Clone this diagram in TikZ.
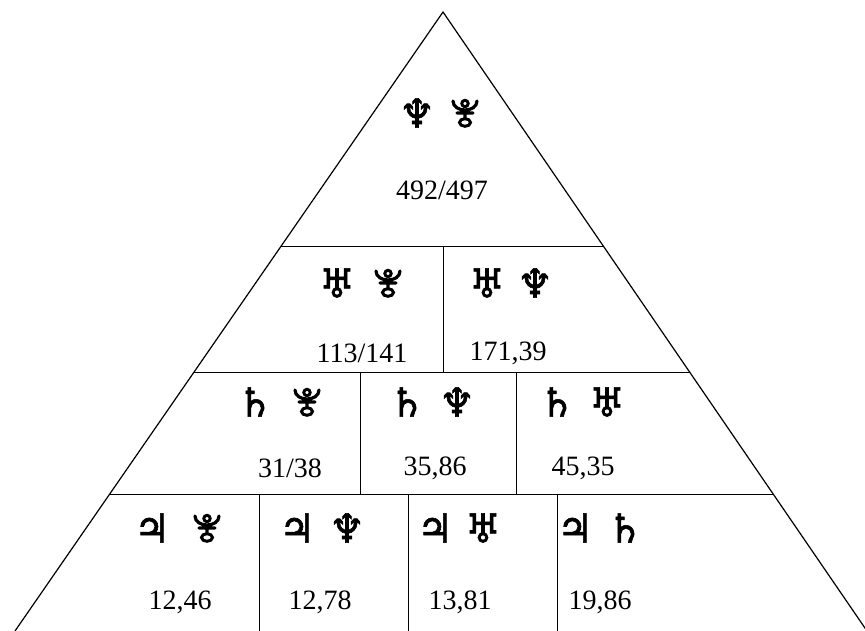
\documentclass[tikz,border=0pt]{standalone}
\usepackage{fontspec}
\setmainfont{Liberation Serif}
\newfontfamily\astro[FakeBold=1.5]{DejaVu Sans}
\usetikzlibrary{calc}
\tikzset{
  pluto/.pic={
    \draw[line width=2.4pt,line cap=round]
      (-12,-12) .. controls (-12,0) and (12,0) .. (12,-12)
      (0,-3) -- (0,5)
      (-8,0) -- (8,0);
    \draw[line width=2.2pt] (0,-9.5) circle[radius=3.2];
    \draw[line width=2.2pt] (0,9.5) ellipse[x radius=5.5,y radius=3.8];
  }
}
\begin{document}
\begin{tikzpicture}[x=0.75pt,y=-0.75pt,
  sym/.style={font=\astro\fontsize{30}{30}\selectfont,inner sep=0pt},
  num/.style={font=\fontsize{21}{24}\selectfont}]
\useasboundingbox (0,0) rectangle (865,631);
\clip (0,0) rectangle (865,631);
\coordinate (A) at (443,12);
\coordinate (L) at (15,631);
\coordinate (R) at (867,631);
\draw[line width=0.9pt] (L) -- (A) -- (R);
% horizontal cuts
\draw ($(A)!0.378!(L)$) -- ($(A)!0.378!(R)$);
\draw ($(A)!0.5816!(L)$) -- ($(A)!0.5816!(R)$);
\draw ($(A)!0.7787!(L)$) -- ($(A)!0.7787!(R)$);
% vertical cuts
\draw (443,246) -- (443,372);
\draw (360,372) -- (360,494);
\draw (516,372) -- (516,494);
\draw (259,494) -- (259,631);
\draw (408,494) -- (408,631);
\draw (557,494) -- (557,631);
% top
\node[sym] (n1) at (417,113) {♆};
\pic at (465,113) {pluto};
\node[num] (npv) at (442,190) {492/497};
% second row
\node[sym] (u1) at (337,283) {♅};
\pic at (388,283) {pluto};
\node[sym] (u2) at (487,283) {♅};
\node[sym] (n2) at (535,283) {♆};
\node[num] (upv) at (362,353) {113/141};
\node[num] (unv) at (508,353) {171,39};
% third row
\node[sym] (s1) at (255,402) {♄};
\pic at (307,402) {pluto};
\node[sym] (s2) at (407,402) {♄};
\node[sym] (n3) at (457,402) {♆};
\node[sym] (s3) at (557,402) {♄};
\node[sym] (u3) at (607,402) {♅};
\node[num] (spv) at (290,468) {31/38};
\node[num] (snv) at (435,468) {35,86};
\node[num] (suv) at (583,468) {45,35};
% bottom row
\node[sym] (j1) at (152,528) {♃};
\pic at (207,528) {pluto};
\node[sym] (j2) at (297,528) {♃};
\node[sym] (n4) at (347,528) {♆};
\node[sym] (j3) at (435,528) {♃};
\node[sym] (u4) at (483,528) {♅};
\node[sym] (j4) at (575,528) {♃};
\node[sym] (s4) at (625,528) {♄};
\node[num] (jpv) at (180,602) {12,46};
\node[num] (jnv) at (320,602) {12,78};
\node[num] (juv) at (460,602) {13,81};
\node[num] (jsv) at (600,602) {19,86};
\end{tikzpicture}
\end{document}
